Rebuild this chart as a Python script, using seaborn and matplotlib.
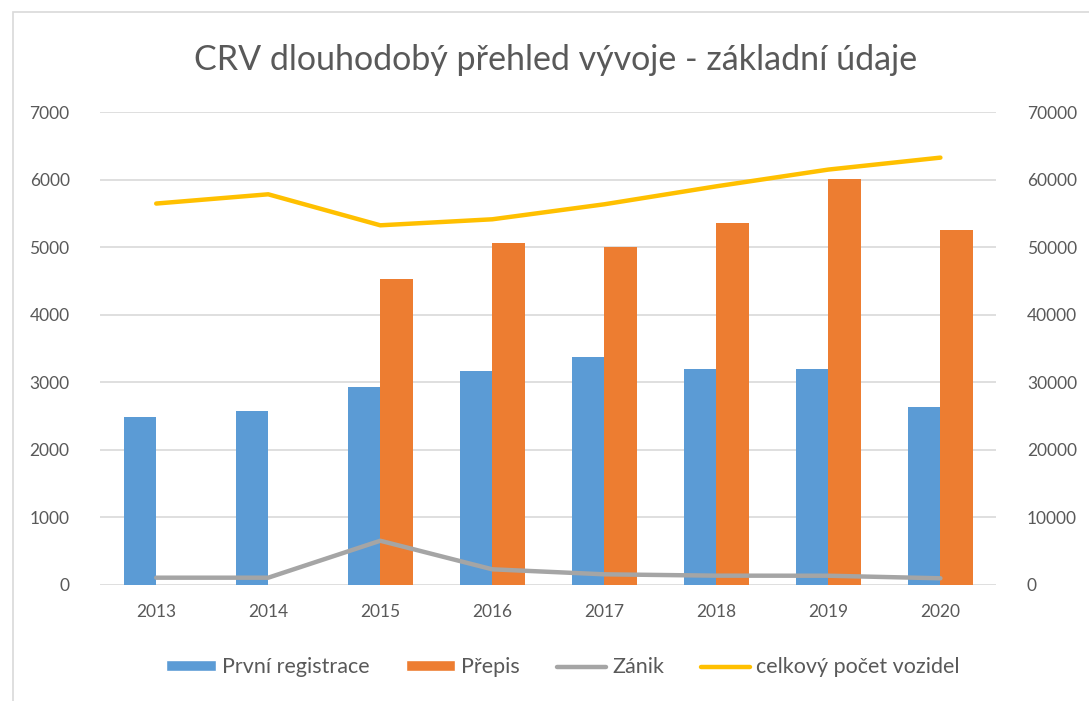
import matplotlib
matplotlib.use("Agg")
import matplotlib.pyplot as plt
from matplotlib.patches import Patch, Rectangle
from matplotlib.lines import Line2D
import seaborn as sns
import pandas as pd
import numpy as np

# data
roky = ['2013', '2014', '2015', '2016', '2017', '2018', '2019', '2020']
prvni_registrace = [2490, 2580, 2935, 3170, 3377, 3200, 3200, 2638]
prepis = [np.nan, np.nan, 4537, 5064, 5004, 5365, 6016, 5251]
zanik = [1080, 1080, 6550, 2320, 1580, 1380, 1370, 990]
celkem = [56470, 57840, 53250, 54140, 56360, 59020, 61500, 63270]

c_blue = '#5b9bd5'
c_orange = '#ed7d31'
c_gray = '#a5a5a5'
c_yellow = '#ffc000'
txt = '#595959'

sns.set_style('white')
plt.rcParams['font.family'] = ['Lato', 'DejaVu Sans']

df = pd.DataFrame({
    'rok': roky * 2,
    'typ': ['První registrace'] * len(roky) + ['Přepis'] * len(roky),
    'pocet': prvni_registrace + prepis,
}).dropna()

fig = plt.figure(figsize=(10.89, 7.01), dpi=100)
ax = fig.add_axes([0.092, 0.1655, 0.823, 0.6745])
sns.barplot(data=df, x='rok', y='pocet', hue='typ', order=roky,
            hue_order=['První registrace', 'Přepis'],
            palette=[c_blue, c_orange], width=0.58, saturation=1,
            linewidth=0, legend=False, ax=ax)

ax2 = ax.twinx()
x = np.arange(len(roky))
sns.lineplot(x=x, y=zanik, ax=ax2, color=c_gray, lw=3.2, solid_capstyle='round')
sns.lineplot(x=x, y=celkem, ax=ax2, color=c_yellow, lw=3.2, solid_capstyle='round')

ax.set_xlim(-0.5, len(roky) - 0.5)
ax.set_ylim(0, 7000)
ax.set_yticks(range(0, 7001, 1000))
ax2.set_ylim(0, 70000)
ax2.set_yticks(range(0, 70001, 10000))
ax.yaxis.grid(True, color='#d9d9d9', lw=1.2)
ax.set_axisbelow(True)
ax.set_xlabel('')
ax.set_ylabel('')
ax2.set_ylabel('')
for a in (ax, ax2):
    for s in a.spines.values():
        s.set_visible(False)
    a.tick_params(length=0, labelsize=12.5, colors=txt)
ax.tick_params(axis='x', pad=14)
ax.tick_params(axis='y', pad=22)
ax2.tick_params(axis='y', pad=22)

fig.text(0.51, 0.914, 'CRV dlouhodobý přehled vývoje - základní údaje',
         ha='center', va='center', fontsize=24.5, color=txt)

handles = [
    Patch(facecolor=c_blue, label='První registrace'),
    Patch(facecolor=c_orange, label='Přepis'),
    Line2D([0], [0], color=c_gray, lw=3.2, label='Zánik'),
    Line2D([0], [0], color=c_yellow, lw=3.2, label='celkový počet vozidel'),
]
fig.legend(handles=handles, loc='center', bbox_to_anchor=(0.517, 0.048), ncol=4,
           frameon=False, fontsize=15.5, labelcolor=txt, handlelength=2.3,
           handleheight=0.4, handletextpad=0.28, columnspacing=1.7)

fig.patches.append(Rectangle((0.012, -0.01), 1.0, 0.993, transform=fig.transFigure,
                             fill=False, edgecolor='#d9d9d9', lw=1.2))

fig.savefig('out.png', dpi=100)
